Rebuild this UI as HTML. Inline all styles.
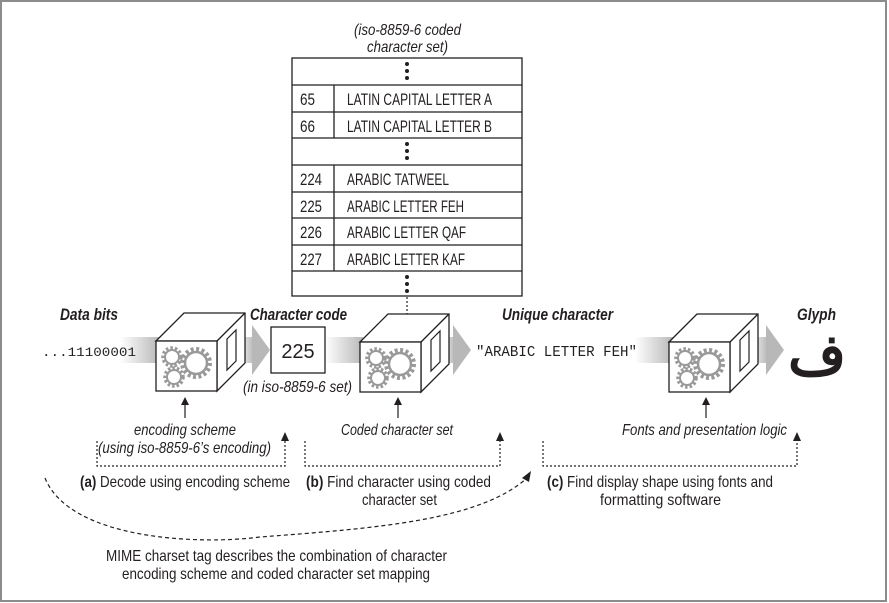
<!DOCTYPE html>
<html><head><meta charset="utf-8"><style>
html,body{margin:0;padding:0;background:#fff}
svg{display:block}
text{font-family:"Liberation Sans Narrow","Liberation Sans",sans-serif;fill:#231f20}
.i{font-style:italic}
.b{font-weight:bold;font-style:italic}
.m{font-family:"Liberation Mono",monospace}
</style></head><body>
<svg width="889" height="603" viewBox="0 0 889 603" xmlns="http://www.w3.org/2000/svg">
<defs>
<linearGradient id="g" x1="0" x2="1" y1="0" y2="0">
<stop offset="0" stop-color="#fff"/><stop offset="1" stop-color="#b8b8b8"/></linearGradient>
<g id="gear">
<circle r="14" fill="none" stroke="#999" stroke-width="4" stroke-dasharray="3 2.5"/>
<circle r="11" fill="none" stroke="#999" stroke-width="2.5"/>
</g>
<g id="gearS">
<circle r="9" fill="none" stroke="#999" stroke-width="3.5" stroke-dasharray="2.5 2"/>
<circle r="7" fill="none" stroke="#999" stroke-width="2"/>
</g>
<g id="cube">
<polygon points="0,0 28,-28 89,-28 89,22 61,50 61,0" fill="#fff" stroke="#231f20" stroke-width="1.3"/>
<line x1="61" y1="0" x2="89" y2="-28" stroke="#231f20" stroke-width="1.3"/>
<polygon points="71,-2 80,-11 80,20 71,29" fill="#fff" stroke="#231f20" stroke-width="1.2"/>
<rect x="0" y="0" width="61" height="50" fill="#fff" stroke="#231f20" stroke-width="1.3"/>
<use href="#gear" x="40" y="22"/>
<use href="#gearS" x="16" y="16"/>
<use href="#gearS" x="18" y="36"/>
</g>
</defs>
<rect x="1" y="1" width="885" height="600" fill="none" stroke="#8c8c8c" stroke-width="2"/>

<text x="354" y="35" class="i" font-size="16" textLength="107" lengthAdjust="spacingAndGlyphs">(iso-8859-6 coded</text>
<text x="367" y="52" class="i" font-size="16" textLength="81" lengthAdjust="spacingAndGlyphs">character set)</text>
<g stroke="#231f20" stroke-width="1.3" fill="none">
<rect x="292" y="58" width="230" height="238"/>
<line x1="292" y1="85" x2="522" y2="85"/><line x1="292" y1="112" x2="522" y2="112"/>
<line x1="292" y1="138" x2="522" y2="138"/><line x1="292" y1="165" x2="522" y2="165"/>
<line x1="292" y1="192" x2="522" y2="192"/><line x1="292" y1="218" x2="522" y2="218"/>
<line x1="292" y1="245" x2="522" y2="245"/><line x1="292" y1="271" x2="522" y2="271"/>
<line x1="334" y1="85" x2="334" y2="138"/><line x1="334" y1="165" x2="334" y2="271"/>
</g>
<g fill="#231f20">
<circle cx="407" cy="64" r="2"/><circle cx="407" cy="71" r="2"/><circle cx="407" cy="78" r="2"/>
<circle cx="407" cy="144" r="2"/><circle cx="407" cy="151" r="2"/><circle cx="407" cy="158" r="2"/>
<circle cx="407" cy="277" r="2"/><circle cx="407" cy="284" r="2"/><circle cx="407" cy="291" r="2"/>
</g>
<g font-size="16.5">
<text x="300" y="105" textLength="15" lengthAdjust="spacingAndGlyphs">65</text><text x="347" y="105" textLength="145" lengthAdjust="spacingAndGlyphs">LATIN CAPITAL LETTER A</text>
<text x="300" y="132" textLength="15" lengthAdjust="spacingAndGlyphs">66</text><text x="347" y="132" textLength="145" lengthAdjust="spacingAndGlyphs">LATIN CAPITAL LETTER B</text>
<text x="300" y="185" textLength="22" lengthAdjust="spacingAndGlyphs">224</text><text x="347" y="185" textLength="102" lengthAdjust="spacingAndGlyphs">ARABIC TATWEEL</text>
<text x="300" y="212" textLength="22" lengthAdjust="spacingAndGlyphs">225</text><text x="347" y="212" textLength="117" lengthAdjust="spacingAndGlyphs">ARABIC LETTER FEH</text>
<text x="300" y="238" textLength="22" lengthAdjust="spacingAndGlyphs">226</text><text x="347" y="238" textLength="119" lengthAdjust="spacingAndGlyphs">ARABIC LETTER QAF</text>
<text x="300" y="265" textLength="22" lengthAdjust="spacingAndGlyphs">227</text><text x="347" y="265" textLength="118" lengthAdjust="spacingAndGlyphs">ARABIC LETTER KAF</text>
</g>
<line x1="407" y1="297" x2="407" y2="316" stroke="#231f20" stroke-width="1.2" stroke-dasharray="2 2"/>
<path d="M403,315 L411,315 L407,323 z" fill="#231f20"/>

<rect x="120" y="337" width="40" height="26" fill="url(#g)"/>
<rect x="236" y="337" width="18" height="26" fill="url(#g)"/>
<path d="M252,325 L270,350 L252,375 z" fill="#b8b8b8"/>
<rect x="325" y="337" width="38" height="26" fill="url(#g)"/>
<rect x="440" y="337" width="15" height="26" fill="url(#g)"/>
<path d="M453,325 L471,350 L453,375 z" fill="#b8b8b8"/>
<rect x="635" y="337" width="38" height="26" fill="url(#g)"/>
<rect x="748" y="337" width="20" height="26" fill="url(#g)"/>
<path d="M766,325 L784,350 L766,375 z" fill="#b8b8b8"/>

<use href="#cube" x="156" y="341"/>
<use href="#cube" x="360" y="342"/>
<use href="#cube" x="669" y="342"/>

<rect x="271" y="327" width="54" height="46" fill="#fff" stroke="#231f20" stroke-width="1.3"/>
<text x="298" y="358" font-size="20" text-anchor="middle" font-family="Liberation Sans,sans-serif">225</text>

<text x="60" y="320" class="b" font-size="17" textLength="58" lengthAdjust="spacingAndGlyphs">Data bits</text>
<text x="250" y="320" class="b" font-size="17" textLength="97" lengthAdjust="spacingAndGlyphs">Character code</text>
<text x="502" y="320" class="b" font-size="17" textLength="111" lengthAdjust="spacingAndGlyphs">Unique character</text>
<text x="797" y="320" class="b" font-size="17" textLength="39" lengthAdjust="spacingAndGlyphs">Glyph</text>
<text x="42" y="356" class="m" font-size="13" textLength="94" lengthAdjust="spacingAndGlyphs">...11100001</text>
<text x="476" y="356" class="m" font-size="15" textLength="161" lengthAdjust="spacingAndGlyphs">"ARABIC LETTER FEH"</text>
<text x="817" y="374" font-size="56" text-anchor="middle" font-family="DejaVu Sans,sans-serif" font-weight="bold">ف</text>
<text x="243" y="392" class="i" font-size="16" textLength="109" lengthAdjust="spacingAndGlyphs">(in iso-8859-6 set)</text>

<g stroke="#231f20" stroke-width="1.2">
<line x1="185" y1="418" x2="185" y2="404"/><line x1="398" y1="418" x2="398" y2="404"/><line x1="706" y1="418" x2="706" y2="404"/>
</g>
<g fill="#231f20">
<path d="M181,405 L189,405 L185,397 z"/><path d="M394,405 L402,405 L398,397 z"/><path d="M702,405 L710,405 L706,397 z"/>
</g>
<g font-size="16">
<text x="134" y="435" class="i" textLength="102" lengthAdjust="spacingAndGlyphs">encoding scheme</text>
<text x="98" y="453" class="i" textLength="173" lengthAdjust="spacingAndGlyphs">(using iso-8859-6’s encoding)</text>
<text x="341" y="435" class="i" textLength="112" lengthAdjust="spacingAndGlyphs">Coded character set</text>
<text x="622" y="435" class="i" textLength="165" lengthAdjust="spacingAndGlyphs">Fonts and presentation logic</text>
</g>

<g stroke="#231f20" stroke-width="1.2" fill="none" stroke-dasharray="2 2">
<path d="M97,441 V466 H285 V440"/>
<path d="M305,441 V466 H500 V440"/>
<path d="M543,441 V466 H797 V440"/>
</g>
<g fill="#231f20">
<path d="M281,441 L289,441 L285,432 z"/><path d="M496,441 L504,441 L500,432 z"/><path d="M793,441 L801,441 L797,432 z"/>
</g>
<g font-size="16">
<text x="80" y="487" textLength="210" lengthAdjust="spacingAndGlyphs"><tspan font-weight="bold">(a)</tspan> Decode using encoding scheme</text>
<text x="306" y="487" textLength="185" lengthAdjust="spacingAndGlyphs"><tspan font-weight="bold">(b)</tspan> Find character using coded</text>
<text x="362" y="505" textLength="75" lengthAdjust="spacingAndGlyphs">character set</text>
<text x="547" y="487" textLength="226" lengthAdjust="spacingAndGlyphs"><tspan font-weight="bold">(c)</tspan> Find display shape using fonts and</text>
<text x="600" y="505" textLength="121" lengthAdjust="spacingAndGlyphs">formatting software</text>
<text x="106" y="561" textLength="341" lengthAdjust="spacingAndGlyphs">MIME charset tag describes the combination of character</text>
<text x="122" y="579" textLength="308" lengthAdjust="spacingAndGlyphs">encoding scheme and coded character set mapping</text>
</g>
<path d="M45,478 C70,540 200,545 260,537 C380,528 480,520 527,478" fill="none" stroke="#231f20" stroke-width="1.2" stroke-dasharray="4 3"/>
<path d="M522,478 L531,471 L529,482 z" fill="#231f20"/>
</svg>
</body></html>
